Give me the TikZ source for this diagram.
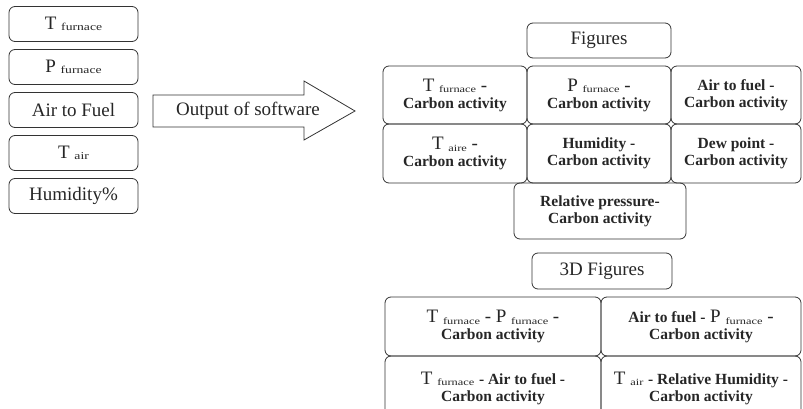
\documentclass[tikz,border=0pt]{standalone}
\usepackage{graphicx}
\usepackage{fontspec}
\setmainfont{Liberation Serif}[BoldFont={Liberation Serif Bold}]
\newcommand\rgf{\fontsize{19}{17}\selectfont}
\newcommand\bdf{\fontsize{15.5}{17}\selectfont\bfseries}
\newcommand\sbx[1]{{\fontsize{9.5}{9}\selectfont\raisebox{-1.5pt}{\scalebox{1.3}[1]{#1}}}}
\newcommand\sbl[1]{{\fontsize{10.5}{9}\selectfont\raisebox{-1.5pt}{\scalebox{1.3}[1]{#1}}}}
\begin{document}
\begin{tikzpicture}[x=1pt,y=-1pt,
 box/.style={draw=black!80, line width=0.8pt, rounded corners=6pt, align=center, inner sep=0pt, font=\rgf, text=black!85},
 lbox/.style={box, minimum width=129pt, minimum height=35pt},
]
\useasboundingbox (0,0) rectangle (803,409);
% left inputs
\node[lbox] (tf) at (73.5,24) {T \sbl{furnace}};
\node[lbox] (pf) at (73.5,67) {P \sbl{furnace}};
\node[lbox] (af) at (73.5,110) {Air to Fuel};
\node[lbox] (ta) at (73.5,153) {T \sbl{air}};
\node[lbox] (hu) at (73.5,196) {Humidity\%};
% arrow
\draw[line width=0.8pt, draw=black!80, line join=miter] (153,95) -- (304,95) -- (304,81) -- (355,111) -- (304,140) -- (304,127) -- (153,127) -- cycle;
\node[font=\rgf, text=black!85] (out) at (248,111) {Output of software};
% Figures
\node[box, minimum width=144pt, minimum height=35pt] (fig) at (599,40.5) {Figures};
\node[box, minimum width=144pt, minimum height=58pt] (c11) at (455,95) {T \sbx{furnace} -\\{\bdf Carbon activity}};
\node[box, minimum width=144pt, minimum height=58pt] (c12) at (599,95) {P \sbx{furnace} -\\{\bdf Carbon activity}};
\node[box, minimum width=130pt, minimum height=58pt] (c13) at (736,95) {{\bdf Air to fuel -}\\{\bdf Carbon activity}};
\node[box, minimum width=144pt, minimum height=59pt] (c21) at (455,153.5) {T \sbx{aire} -\\{\bdf Carbon activity}};
\node[box, minimum width=144pt, minimum height=59pt] (c22) at (599,153.5) {{\bdf Humidity -}\\{\bdf Carbon activity}};
\node[box, minimum width=130pt, minimum height=59pt] (c23) at (736,153.5) {{\bdf Dew point -}\\{\bdf Carbon activity}};
\node[box, minimum width=172pt, minimum height=56pt] (rp) at (600,211) {{\bdf Relative pressure-}\\{\bdf Carbon activity}};
% 3D Figures
\node[box, minimum width=140pt, minimum height=36pt] (fig3) at (602,271) {3D Figures};
\node[box, minimum width=216pt, minimum height=59pt] (d11) at (493,326.5) {T \sbx{furnace} - P \sbx{furnace} -\\{\bdf Carbon activity}};
\node[box, minimum width=200pt, minimum height=59pt] (d12) at (701,326.5) {{\bdf Air to fuel -} P \sbx{furnace} -\\{\bdf Carbon activity}};
\node[box, minimum width=216pt, minimum height=64pt] (d21) at (493,388) {T \sbx{furnace} {\bdf - Air to fuel -}\\{\bdf Carbon activity}};
\node[box, minimum width=200pt, minimum height=64pt] (d22) at (701,388) {T \sbx{air} {\bdf - Relative Humidity -}\\{\bdf Carbon activity}};
\end{tikzpicture}
\end{document}
